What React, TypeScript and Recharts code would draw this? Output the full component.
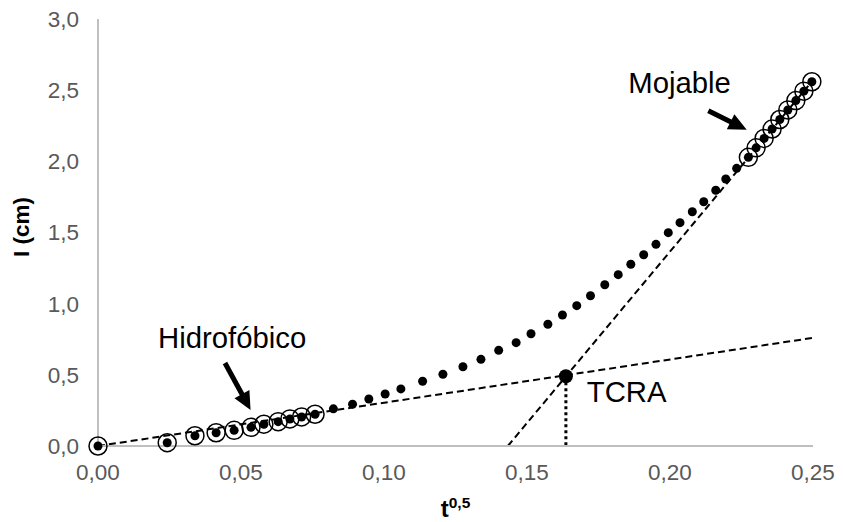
import React from "react";
import { ComposedChart, XAxis, YAxis, Line, Scatter } from "recharts";

// t^0.5 values (x) and cumulative infiltration I (cm) (y)
const tValues = [0, 0.0242, 0.0339, 0.0413, 0.0476, 0.0535, 0.058, 0.063, 0.0671, 0.0712, 0.0759, 0.0823, 0.089, 0.0947, 0.1004, 0.1059, 0.1135, 0.1206, 0.1276, 0.1339, 0.1401, 0.1462, 0.1514, 0.1573, 0.1624, 0.1674, 0.1722, 0.1772, 0.1819, 0.1863, 0.1908, 0.1951, 0.1994, 0.2035, 0.2078, 0.2118, 0.216, 0.2195, 0.2233, 0.2274, 0.2301, 0.2329, 0.2357, 0.2384, 0.2412, 0.244, 0.2468, 0.2496];
const infiltration = [0, 0.023, 0.072, 0.093, 0.11, 0.131, 0.153, 0.171, 0.19, 0.204, 0.223, 0.261, 0.294, 0.33, 0.365, 0.401, 0.455, 0.504, 0.557, 0.609, 0.672, 0.726, 0.789, 0.855, 0.92, 0.986, 1.056, 1.133, 1.204, 1.277, 1.344, 1.417, 1.499, 1.569, 1.646, 1.716, 1.797, 1.876, 1.951, 2.028, 2.095, 2.161, 2.227, 2.294, 2.361, 2.427, 2.493, 2.559];

// indices of points marked with open circles
const hydrophobicIdx = [0, 1, 2, 3, 4, 5, 6, 7, 8, 9, 10];
const wettableIdx = [39, 40, 41, 42, 43, 44, 45, 46, 47];

// fitted lines
const hydroFitT = [0, 0.25];
const hydroFitI = [0, 0.76];
const wetFitT = [0.1433, 0.25];
const wetFitI = [0, 2.57];

// TCRA point
const tcraT = 0.1636;
const tcraI = 0.49;

// annotation arrows (tail, base of head)
const hydroArrowT = [0.0444, 0.0505];
const hydroArrowI = [0.583, 0.358];
const wetArrowT = [0.2134, 0.2215];
const wetArrowI = [2.356, 2.275];

// annotation text anchors
const labelTexts = ["Hidrofóbico", "Mojable", "TCRA"];
const labelT = [0.021, 0.1854, 0.1709];
const labelI = [0.686, 2.478, 0.311];

const xTicks = [0, 0.05, 0.1, 0.15, 0.2, 0.25];
const yTicks = [0, 0.5, 1, 1.5, 2, 2.5, 3];

const zip = (xs: number[], ys: number[]) => xs.map((x, i) => ({ x, y: ys[i] }));
const allPoints = zip(tValues, infiltration);
const hydroCircles = hydrophobicIdx.map((i) => allPoints[i]);
const wetCircles = wettableIdx.map((i) => allPoints[i]);
const hydroFit = zip(hydroFitT, hydroFitI);
const wetFit = zip(wetFitT, wetFitI);
const tcraDrop = [{ x: tcraT, y: tcraI }, { x: tcraT, y: 0 }];
const tcraPoint = [{ x: tcraT, y: tcraI }];
const hydroArrow = zip(hydroArrowT, hydroArrowI);
const wetArrow = zip(wetArrowT, wetArrowI);
const labels = labelTexts.map((label, i) => ({ x: labelT[i], y: labelI[i], label }));

const FONT = "'Liberation Sans', Arial, sans-serif";

const fmtX = (v: number) => v.toFixed(2).replace(".", ",");
const fmtY = (v: number) => v.toFixed(1).replace(".", ",");

const FilledDot = (p: any) => <circle cx={p.cx} cy={p.cy} r={4.5} fill="#000" />;
const OpenCircle = (p: any) => (
  <circle cx={p.cx} cy={p.cy} r={9} fill="none" stroke="#000" strokeWidth={1.5} />
);
const BigDot = (p: any) => <circle cx={p.cx} cy={p.cy} r={7} fill="#000" />;
const LabelShape = (p: any) => (
  <text x={p.cx} y={p.cy} fontSize={29.3} fontFamily={FONT} fill="#000" textAnchor="start">
    {p.payload.label}
  </text>
);

const ArrowHead = (p: any) => {
  const { index, points, cx, cy } = p;
  if (!points || index !== points.length - 1 || index === 0) return <g key={`ah-${index}`} />;
  const prev = points[index - 1];
  const dx = cx - prev.x;
  const dy = cy - prev.y;
  const len = Math.sqrt(dx * dx + dy * dy) || 1;
  const ux = dx / len;
  const uy = dy / len;
  const headLen = 17;
  const halfW = 8.5;
  const tipX = cx + ux * headLen;
  const tipY = cy + uy * headLen;
  const bx = cx - ux * 1;
  const by = cy - uy * 1;
  const pts = `${tipX},${tipY} ${bx - uy * halfW},${by + ux * halfW} ${bx + uy * halfW},${by - ux * halfW}`;
  return <polygon key={`ah-${index}`} points={pts} fill="#000" />;
};

const XTitle = (props: any) => {
  const vb = props.viewBox || { x: 98, y: 446, width: 715, height: 76 };
  const cx = vb.x + vb.width / 2;
  return (
    <text x={cx} y={vb.y + 71} textAnchor="middle" fontFamily={FONT} fontWeight="bold" fill="#000">
      <tspan fontSize={24}>t</tspan>
      <tspan fontSize={15.5} dy={-9}>0,5</tspan>
    </text>
  );
};

const YTitle = () => (
  <text
    x={29}
    y={227}
    transform="rotate(-90, 29, 227)"
    textAnchor="middle"
    fontFamily={FONT}
    fontWeight="bold"
    fontSize={22.5}
    fill="#000"
  >
    I (cm)
  </text>
);

export default function App() {
  return (
    <div style={{ width: 843, height: 522, background: "#fff" }}>
      <style>{"body{margin:0;background:#fff}"}</style>
      <ComposedChart width={843} height={522} margin={{ top: 19, right: 30, bottom: 0, left: 0 }}>
        <XAxis
          type="number"
          dataKey="x"
          domain={[0, 0.25]}
          ticks={xTicks}
          tickFormatter={fmtX}
          height={76}
          tickLine={false}
          tickSize={0}
          tickMargin={18}
          axisLine={{ stroke: "#BFBFBF", strokeWidth: 2 }}
          tick={{ fill: "#595959", fontSize: 22.5, fontFamily: FONT }}
          label={<XTitle />}
        />
        <YAxis
          type="number"
          dataKey="y"
          domain={[0, 3]}
          ticks={yTicks}
          tickFormatter={fmtY}
          width={98}
          tickLine={false}
          tickSize={0}
          tickMargin={19}
          axisLine={{ stroke: "#BFBFBF", strokeWidth: 2 }}
          tick={{ fill: "#595959", fontSize: 22.5, fontFamily: FONT }}
          label={<YTitle />}
        />
        <Line data={hydroFit} dataKey="y" type="linear" stroke="#000" strokeWidth={2} strokeDasharray="7 4" dot={false} isAnimationActive={false} />
        <Line data={wetFit} dataKey="y" type="linear" stroke="#000" strokeWidth={2} strokeDasharray="7 4" dot={false} isAnimationActive={false} />
        <Line data={tcraDrop} dataKey="y" type="linear" stroke="#000" strokeWidth={3} strokeDasharray="3 3" dot={false} isAnimationActive={false} />
        <Line data={hydroArrow} dataKey="y" type="linear" stroke="#000" strokeWidth={5} dot={ArrowHead} isAnimationActive={false} />
        <Line data={wetArrow} dataKey="y" type="linear" stroke="#000" strokeWidth={5} dot={ArrowHead} isAnimationActive={false} />
        <Scatter data={allPoints} dataKey="y" shape={FilledDot} isAnimationActive={false} />
        <Scatter data={hydroCircles} dataKey="y" shape={OpenCircle} isAnimationActive={false} />
        <Scatter data={wetCircles} dataKey="y" shape={OpenCircle} isAnimationActive={false} />
        <Scatter data={tcraPoint} dataKey="y" shape={BigDot} isAnimationActive={false} />
        <Scatter data={labels} dataKey="y" shape={LabelShape} isAnimationActive={false} />
      </ComposedChart>
    </div>
  );
}
